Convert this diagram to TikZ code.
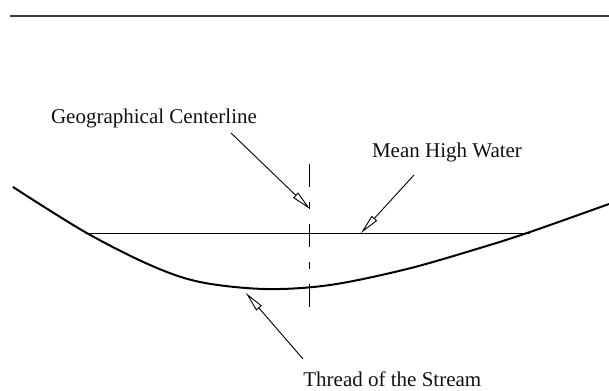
\documentclass[tikz,border=0pt]{standalone}
\usepackage{fontspec}
\setmainfont{Liberation Serif}
\usetikzlibrary{
  arrows.meta,
}
\definecolor{lineCol}{HTML}{000000}
\definecolor{ruleCol}{HTML}{3A3A3A}
\definecolor{textCol}{HTML}{111111}
\tikzset{
  toprule/.style={ruleCol, line width=1pt},
  bedline/.style={lineCol, line width=1pt, line join=round},
  waterline/.style={lineCol, line width=0.5pt},
  centerdash/.style={lineCol, line width=0.5pt,
    dash pattern=on 11.5pt off 7.5pt on 3.5pt off 7.5pt},
  pointer/.style={-{Triangle[open, length=10pt, width=3.6pt]}, lineCol, line width=0.45pt},
  note/.style={font=\fontsize{10.5}{12}\selectfont, text=textCol, inner sep=0pt},
}
\begin{document}
\begin{tikzpicture}[x=0.5pt, y=-0.5pt]

  \useasboundingbox (0,0) rectangle (609,390);

  % Top border
  \coordinate (ruleL) at (10,16);
  \coordinate (ruleR) at (609,16);
  \draw[toprule] (ruleL) -- (ruleR);

  % Stream bed
  \draw[bedline] plot[smooth, tension=0.55] coordinates {
    (13,187) (85,232) (150,265) (200,282) (265,289) (330,285)
    (407,269) (480,248) (530,232) (609,204)};

  % Mean high water and centerline
  \coordinate (mhwL) at (85,233);
  \coordinate (mhwR) at (530,233);
  \draw[waterline] (mhwL) -- (mhwR);
  \coordinate (clTop) at (309,164);
  \coordinate (clBot) at (309,310);
  \draw[centerdash] (clTop) -- (clBot);

  % Labels
  \node[note, anchor=base] (geo) at (154,123) {Geographical Centerline};
  \node[note, anchor=base] (mhw) at (447,157) {Mean High Water};
  \node[note, anchor=base west] (thread) at (303,386) {Thread of the Stream};

  % Pointers
  \coordinate (geoTail) at (231,133);
  \coordinate (geoTip) at (310,209);
  \coordinate (mhwTail) at (414,175);
  \coordinate (mhwTip) at (361,233);
  \coordinate (thrTail) at (303,359);
  \coordinate (thrTip) at (246,293);
  \draw[pointer] (geoTail) -- (geoTip);
  \draw[pointer] (mhwTail) -- (mhwTip);
  \draw[pointer] (thrTail) -- (thrTip);

\end{tikzpicture}
\end{document}
